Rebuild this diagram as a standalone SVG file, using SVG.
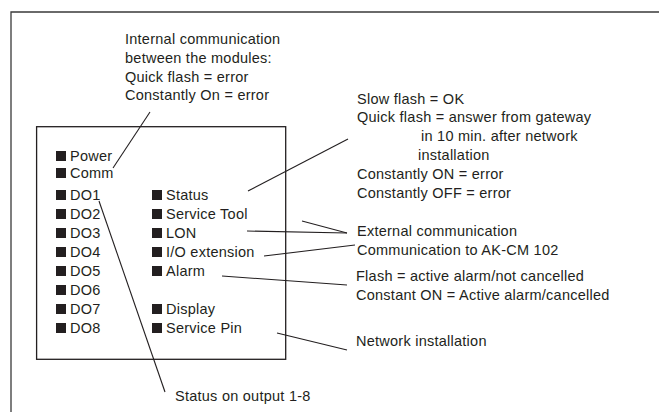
<svg xmlns="http://www.w3.org/2000/svg" width="659" height="412" viewBox="0 0 659 412">
<style>
text{font-family:"Liberation Sans",Arial,sans-serif;font-size:14.5px;letter-spacing:0.25px;fill:#231f20}
.frame{fill:none;stroke:#3a3a3a;stroke-width:1.3}
.box{fill:none;stroke:#231f20;stroke-width:1.3}
.led{fill:#231f20}
.conn line{stroke:#231f20;stroke-width:1.1}
</style>
<defs><rect id="sq" width="10" height="10" class="led"/></defs>
<path class="frame" d="M11 412V12H659"/>
<g id="module">
<rect class="box" x="36.6" y="126.7" width="249.1" height="232.6"/>
</g>
<g id="leds-left">
<use href="#sq" x="56" y="151"/><text x="70" y="161">Power</text>
<use href="#sq" x="56" y="168"/><text x="70" y="178">Comm</text>
<use href="#sq" x="56" y="190"/><text x="70" y="200">DO1</text>
<use href="#sq" x="56" y="209"/><text x="70" y="219">DO2</text>
<use href="#sq" x="56" y="228"/><text x="70" y="238">DO3</text>
<use href="#sq" x="56" y="247"/><text x="70" y="257">DO4</text>
<use href="#sq" x="56" y="266"/><text x="70" y="276">DO5</text>
<use href="#sq" x="56" y="285"/><text x="70" y="295">DO6</text>
<use href="#sq" x="56" y="304"/><text x="70" y="314">DO7</text>
<use href="#sq" x="56" y="323"/><text x="70" y="333">DO8</text>
</g>
<g id="leds-right">
<use href="#sq" x="152" y="190"/><text x="166" y="200">Status</text>
<use href="#sq" x="152" y="209"/><text x="166" y="219">Service Tool</text>
<use href="#sq" x="152" y="228"/><text x="166" y="238">LON</text>
<use href="#sq" x="152" y="247"/><text x="166" y="257">I/O extension</text>
<use href="#sq" x="152" y="266"/><text x="166" y="276">Alarm</text>
<use href="#sq" x="152" y="304"/><text x="166" y="314">Display</text>
<use href="#sq" x="152" y="323"/><text x="166" y="333">Service Pin</text>
</g>
<g id="note-internal">
<text x="125" y="44">Internal communication</text>
<text x="125" y="63">between the modules:</text>
<text x="125" y="81.5">Quick flash = error</text>
<text x="125" y="100">Constantly On = error</text>
</g>
<g id="note-status">
<text x="357" y="103.5">Slow flash = OK</text>
<text x="357" y="122">Quick flash = answer from gateway</text>
<text x="421" y="141">in 10 min. after network</text>
<text x="418" y="160">installation</text>
<text x="357" y="179">Constantly ON = error</text>
<text x="357" y="197.5">Constantly OFF = error</text>
</g>
<g id="note-external"><text x="357" y="236">External communication</text></g>
<g id="note-akcm"><text x="357" y="255">Communication to AK-CM 102</text></g>
<g id="note-alarm">
<text x="356" y="281">Flash = active alarm/not cancelled</text>
<text x="356" y="300">Constant ON = Active alarm/cancelled</text>
</g>
<g id="note-network"><text x="356" y="346">Network installation</text></g>
<g id="note-outputs"><text x="175" y="401">Status on output 1-8</text></g>
<g class="conn" id="connectors">
<line x1="150" y1="112" x2="113" y2="168"/>
<line x1="99" y1="201" x2="165" y2="392"/>
<line x1="348" y1="139" x2="248" y2="191"/>
<line x1="302" y1="221" x2="347" y2="233"/>
<line x1="247" y1="231" x2="347" y2="233"/>
<line x1="264" y1="256" x2="355" y2="245"/>
<line x1="222" y1="276" x2="347" y2="285"/>
<line x1="277" y1="333" x2="347" y2="350"/>
</g>
</svg>
